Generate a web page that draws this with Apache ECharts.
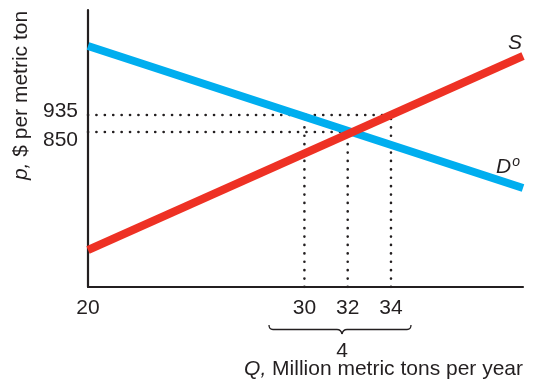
<!DOCTYPE html>
<html>
<head>
<meta charset="utf-8">
<script src="https://cdn.jsdelivr.net/npm/echarts@6/dist/echarts.min.js"></script>
<style>
html,body{margin:0;padding:0;background:#fff;}
#chart{width:535px;height:392px;}
</style>
</head>
<body>
<div id="chart"></div>
<script>
// Data
var xTickLabels = [20, 30, 32, 34];
var yTickLabels = [850, 935];
var demandQ = [20, 40.1];
var demandP = [1280, 570];
var supplyQ = [20, 40.1];
var supplyP = [260, 1230];
var priceHigh = 935, priceEq = 850;
var qDemandHigh = 30, qEq = 32, qSupplyHigh = 34;
var qMin = 20;
var shortageLabel = '4';

var INK = '#231F20';
var FONT = '"Liberation Sans", Arial, Helvetica, sans-serif';
var FS = 21;

function pairs(xs, ys) { return xs.map(function (x, i) { return [x, ys[i]]; }); }

var dotted = { color: INK, width: 2.6, type: [0.1, 8.3], cap: 'round' };
function dotSeries(data) {
  return { type: 'line', data: data, symbol: 'none', silent: true, z: 1, lineStyle: dotted, animation: false };
}

var braceStyle = { stroke: INK, lineWidth: 1.3, fill: null };
function bez(x1, y1, cx, cy, x2, y2) {
  return { type: 'bezierCurve', shape: { x1: x1, y1: y1, cpx1: cx, cpy1: cy, x2: x2, y2: y2 }, style: braceStyle };
}
function seg(x1, y1, x2, y2) {
  return { type: 'line', shape: { x1: x1, y1: y1, x2: x2, y2: y2 }, style: braceStyle };
}

var chart = echarts.init(document.getElementById('chart'));
chart.setOption({
  animation: false,
  backgroundColor: '#fff',
  grid: { left: 88, right: 12, top: 10, bottom: 105 },
  xAxis: {
    type: 'value', min: qMin, max: 40.1,
    axisLine: { show: true, onZero: false, lineStyle: { color: INK, width: 2.2 } },
    axisTick: { show: false },
    splitLine: { show: false },
    axisLabel: { customValues: xTickLabels, color: INK, fontSize: FS, fontFamily: FONT, margin: 11 },
    name: '{i|Q,} Million metric tons per year',
    nameLocation: 'end', nameGap: 0,
    nameTextStyle: { align: 'right', verticalAlign: 'top', padding: [72, 0, 0, 0], color: INK, fontSize: FS, fontFamily: FONT,
      rich: { i: { fontStyle: 'italic', fontSize: FS, fontFamily: FONT, color: INK } } }
  },
  yAxis: {
    type: 'value', min: 75, max: 1460,
    axisLine: { show: true, onZero: false, lineStyle: { color: INK, width: 2.2 } },
    axisTick: { show: false },
    splitLine: { show: false },
    axisLabel: {
      customValues: yTickLabels, color: INK, fontSize: FS, fontFamily: FONT, margin: 10,
      formatter: function (v) { return v === priceHigh ? '{up|' + v + '}' : '{dn|' + v + '}'; },
      rich: { up: { fontSize: FS, fontFamily: FONT, color: INK, padding: [0, 0, 8, 0] },
              dn: { fontSize: FS, fontFamily: FONT, color: INK, padding: [16, 0, 0, 0] } }
    },
    name: '{i|p,} $ per metric ton',
    nameLocation: 'middle', nameRotate: 90, nameGap: 46,
    nameTextStyle: { color: INK, fontSize: FS, fontFamily: FONT, padding: [0, 0, 0, 106],
      rich: { i: { fontStyle: 'italic', fontSize: FS, fontFamily: FONT, color: INK } } }
  },
  series: [
    dotSeries([[qMin, priceHigh], [qSupplyHigh, priceHigh]]),
    dotSeries([[qMin, priceEq], [qEq, priceEq]]),
    dotSeries([[qDemandHigh, 75], [qDemandHigh, priceHigh]]),
    dotSeries([[qEq, 75], [qEq, priceEq]]),
    dotSeries([[qSupplyHigh, 75], [qSupplyHigh, priceHigh]]),
    { name: 'D', type: 'line', data: pairs(demandQ, demandP), symbol: 'none', z: 3,
      lineStyle: { color: '#00AEEF', width: 8, cap: 'butt' },
      endLabel: { show: true, formatter: '{i|D}{s|o}', align: 'center', verticalAlign: 'bottom', distance: 0, offset: [-15, -9],
        rich: { i: { fontStyle: 'italic', fontSize: FS, fontFamily: FONT, color: INK },
                s: { fontStyle: 'italic', fontSize: 14, fontFamily: FONT, color: INK, padding: [0, 0, 10, 1] } } } },
    { name: 'S', type: 'line', data: pairs(supplyQ, supplyP), symbol: 'none', z: 4,
      lineStyle: { color: '#EE3124', width: 8, cap: 'butt' },
      endLabel: { show: true, formatter: '{i|S}', align: 'center', verticalAlign: 'bottom', distance: 0, offset: [-8, -2],
        rich: { i: { fontStyle: 'italic', fontSize: FS, fontFamily: FONT, color: INK } } } }
  ],
  graphic: [
    bez(269, 325, 269, 329.5, 273, 329.5),
    seg(273, 329.5, 337, 329.5),
    bez(337, 329.5, 341, 329.5, 342, 334),
    bez(342, 334, 343, 329.5, 347, 329.5),
    seg(347, 329.5, 407, 329.5),
    bez(407, 329.5, 411, 329.5, 411, 325),
    { type: 'text', x: 342, y: 351, style: { text: shortageLabel, fontSize: FS, fontFamily: FONT, fill: INK, align: 'center', verticalAlign: 'middle' } }
  ]
});
</script>
</body>
</html>
